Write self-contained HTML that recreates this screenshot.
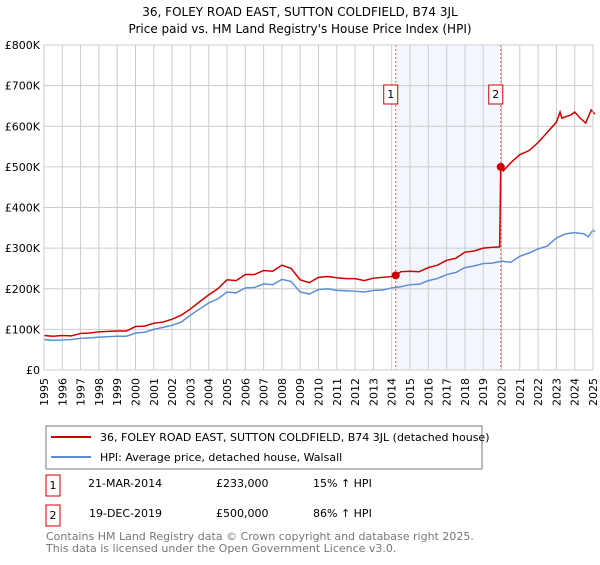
<!DOCTYPE html>
<html><head><meta charset="utf-8"><style>
body{margin:0;background:#fff;font-family:"Liberation Sans","DejaVu Sans",sans-serif;}
svg text{font-family:"DejaVu Sans","Liberation Sans",sans-serif;}
</style></head><body>
<svg id="c" width="600" height="560" xmlns="http://www.w3.org/2000/svg">
<text x="300" y="16" text-anchor="middle" font-size="12">36, FOLEY ROAD EAST, SUTTON COLDFIELD, B74 3JL</text>
<text x="300" y="33" text-anchor="middle" font-size="12">Price paid vs. HM Land Registry's House Price Index (HPI)</text>
<g id="grid"></g><g id="marks"></g><g id="axes"></g>
<rect x="46" y="426" width="436" height="43" fill="#fff" stroke="#777"/>
<line x1="51" y1="437" x2="91" y2="437" stroke="#cc0000" stroke-width="2"/>
<text x="100" y="441" font-size="11">36, FOLEY ROAD EAST, SUTTON COLDFIELD, B74 3JL (detached house)</text>
<line x1="51" y1="457" x2="91" y2="457" stroke="#5b8ed6" stroke-width="2"/>
<text x="100" y="461" font-size="11">HPI: Average price, detached house, Walsall</text>
<rect x="46" y="475" width="14" height="21" fill="#fff" stroke="#cc0000"/>
<text x="53" y="489" text-anchor="middle" font-size="11">1</text>
<text x="88" y="487" font-size="11">21-MAR-2014</text>
<text x="216" y="487" font-size="11">£233,000</text>
<text x="313" y="487" font-size="11">15% ↑ HPI</text>
<rect x="46" y="505" width="14" height="21" fill="#fff" stroke="#cc0000"/>
<text x="53" y="519" text-anchor="middle" font-size="11">2</text>
<text x="89" y="517" font-size="11">19-DEC-2019</text>
<text x="216" y="517" font-size="11">£500,000</text>
<text x="313" y="517" font-size="11">86% ↑ HPI</text>
<text x="46" y="540" font-size="11" fill="#777">Contains HM Land Registry data © Crown copyright and database right 2025.</text>
<text x="46" y="552" font-size="11" fill="#777">This data is licensed under the Open Government Licence v3.0.</text>
</svg>
<script>
const yTicks=[0,100,200,300,400,500,600,700,800];
const yTickLabels=["£0","£100K","£200K","£300K","£400K","£500K","£600K","£700K","£800K"];
const years=[1995,1996,1997,1998,1999,2000,2001,2002,2003,2004,2005,2006,2007,2008,2009,2010,2011,2012,2013,2014,2015,2016,2017,2018,2019,2020,2021,2022,2023,2024,2025];
const hpiT=[1995,1995.5,1996,1996.5,1997,1997.5,1998,1998.5,1999,1999.5,2000,2000.5,2001,2001.5,2002,2002.5,2003,2003.5,2004,2004.5,2005,2005.5,2006,2006.5,2007,2007.5,2008,2008.5,2009,2009.5,2010,2010.5,2011,2011.5,2012,2012.5,2013,2013.5,2014,2014.5,2015,2015.5,2016,2016.5,2017,2017.5,2018,2018.5,2019,2019.5,2020,2020.5,2021,2021.5,2022,2022.5,2023,2023.5,2024,2024.5,2024.75,2025,2025.1];
const hpiV=[75,73,74,75,78,79,81,82,83,83,91,93,100,105,110,118,135,150,165,175,192,190,202,203,212,210,223,218,192,187,198,200,196,195,194,192,196,197,202,205,210,211,220,225,235,240,252,256,262,263,268,265,280,288,298,305,325,335,338,335,328,345,340];
const redT=[1995,1995.5,1996,1996.5,1997,1997.5,1998,1998.5,1999,1999.5,2000,2000.5,2001,2001.5,2002,2002.5,2003,2003.5,2004,2004.5,2005,2005.5,2006,2006.5,2007,2007.5,2008,2008.5,2009,2009.5,2010,2010.5,2011,2011.5,2012,2012.5,2013,2013.5,2014,2014.22,2014.5,2015,2015.5,2016,2016.5,2017,2017.5,2018,2018.5,2019,2019.5,2019.9,2019.96,2020.1,2020.5,2021,2021.5,2022,2022.5,2023,2023.2,2023.3,2023.8,2024,2024.3,2024.6,2024.9,2025.1];
const redV=[85,83,85,84,90,91,94,95,96,96,107,108,115,118,125,135,150,168,185,200,222,220,235,235,245,243,258,250,222,215,228,230,227,225,225,220,226,228,230,233,242,243,242,252,258,270,275,290,293,300,302,303,500,490,510,530,540,560,585,610,635,620,628,635,620,608,640,630];
const saleT=[2014.22,2019.96];
const saleV=[233,500];
const saleLabels=["1","2"];
const NS="http://www.w3.org/2000/svg";
const X0=44,X1=593,Y0=370,Y1=45;
const x=t=>X0+(t-1995)/30*(X1-X0);
const y=v=>Y0-v/800*(Y0-Y1);
function mk(tag,attrs,parent){const e=document.createElementNS(NS,tag);for(const k in attrs)e.setAttribute(k,attrs[k]);parent.appendChild(e);return e;}
const grid=document.getElementById('grid'),marks=document.getElementById('marks'),axes=document.getElementById('axes');
const shade=mk('rect',{x:x(saleT[0]),y:Y1,width:x(saleT[1])-x(saleT[0]),height:Y0-Y1,fill:'#eef3fc',opacity:0.7},grid);


yTicks.forEach((v,i)=>{
 const l=mk('line',{x1:X0,x2:X1,y1:y(v),y2:y(v),stroke:'#ccc'},grid);
 
 
 const t=mk('text',{x:X0-4,y:y(v)+4,'text-anchor':'end','font-size':11},axes);
 t.textContent=yTickLabels[i];
 
 
});
years.forEach(yr=>{
 const l=mk('line',{x1:x(yr),x2:x(yr),y1:Y1,y2:Y0,stroke:'#ccc'},grid);
 
 
 const t=mk('text',{x:0,y:0,'text-anchor':'end','font-size':11,transform:`translate(${x(yr)+4},${Y0+8}) rotate(-90)`},axes);
 t.textContent=yr;
 
 
});
saleT.forEach((t,i)=>{
 const l=mk('line',{x1:x(t),x2:x(t),y1:Y1,y2:Y0,stroke:'#e06060','stroke-dasharray':'2,2'},grid);
 
 
});
const hp=mk('polyline',{points:hpiT.map((t,i)=>x(t)+','+y(hpiV[i])).join(' '),fill:'none',stroke:'#5b8ed6','stroke-width':1.5},marks);


const rp=mk('polyline',{points:redT.map((t,i)=>x(t)+','+y(redV[i])).join(' '),fill:'none',stroke:'#cc0000','stroke-width':1.5},marks);


saleT.forEach((t,i)=>{
 const c=mk('circle',{cx:x(t),cy:y(saleV[i]),r:4,fill:'#cc0000'},marks);
 
 
 const b=mk('rect',{x:x(t)-12,y:85,width:14,height:19,fill:'#fff',stroke:'#cc0000'},marks);
 
 
 const tx=mk('text',{x:x(t)-5,y:98,'text-anchor':'middle','font-size':11},marks);
 tx.textContent=saleLabels[i];
 
 
});
const bd=mk('rect',{x:X0,y:Y1,width:X1-X0,height:Y0-Y1,fill:'none',stroke:'#ccc'},axes);


</script>
</body></html>
